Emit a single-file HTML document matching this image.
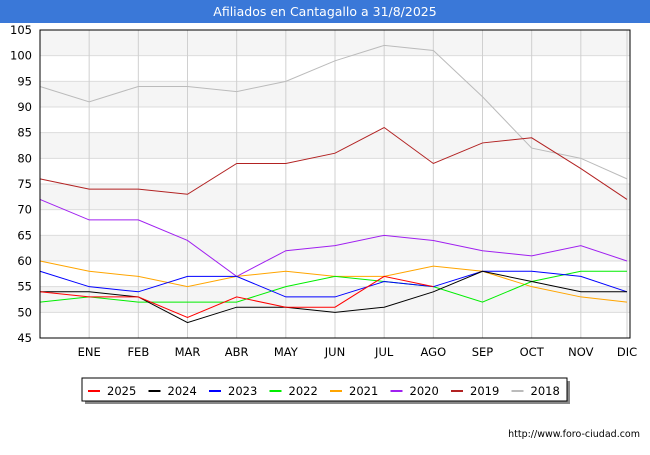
<!DOCTYPE html>
<html><head><meta charset="utf-8"><style>
body{margin:0;background:#fff;font-family:"Liberation Sans",sans-serif}
</style></head><body>
<svg width="650" height="450" xmlns="http://www.w3.org/2000/svg" font-family="DejaVu Sans, sans-serif">
<rect x="0" y="0" width="650" height="450" fill="#fff"/>
<rect x="0" y="0" width="650" height="23" fill="#3a78d8"/>
<text x="325" y="16" text-anchor="middle" fill="#fff" font-size="12.5">Afiliados en Cantagallo a 31/8/2025</text>
<g id="grid"></g><g id="lines"></g>
<rect x="40" y="30" width="590" height="308" fill="none" stroke="#000" stroke-width="1"/>
<g id="legend"></g>
<text x="640" y="437" text-anchor="end" font-size="9.5" fill="#000">http://www.foro-ciudad.com</text>
</svg>
<script>
const categories=["","ENE","FEB","MAR","ABR","MAY","JUN","JUL","AGO","SEP","OCT","NOV","DIC"];
const yTicks=[45,50,55,60,65,70,75,80,85,90,95,100,105];
const seriesNames=["2025","2024","2023","2022","2021","2020","2019","2018"];
const seriesColors=["#ff0000","#000000","#0000ff","#00ee00","#ffa500","#a020f0","#b22222","#bbbbbb"];
const s2025=[54,53,53,49,53,51,51,57,55];
const s2024=[54,54,53,48,51,51,50,51,54,58,56,54,54];
const s2023=[58,55,54,57,57,53,53,56,55,58,58,57,54];
const s2022=[52,53,52,52,52,55,57,56,55,52,56,58,58];
const s2021=[60,58,57,55,57,58,57,57,59,58,55,53,52];
const s2020=[72,68,68,64,57,62,63,65,64,62,61,63,60];
const s2019=[76,74,74,73,79,79,81,86,79,83,84,78,72];
const s2018=[94,91,94,94,93,95,99,102,101,92,82,80,76];
const seriesData=[s2025,s2024,s2023,s2022,s2021,s2020,s2019,s2018];
const NS="http://www.w3.org/2000/svg";
const x0=40,x1=630,y0=338,y1=30;
const xs=i=>x0+i*(x1-x0)/(categories.length-1)-(i==categories.length-1?3:0);
const ys=v=>y0-(v-45)*(y0-y1)/60;
function mk(t,a,p){const e=document.createElementNS(NS,t);for(const k in a)e.setAttribute(k,a[k]);p.appendChild(e);return e;}
const g=document.getElementById('grid');
for(let i=0;i<yTicks.length-1;i++){if(i%2==1){const r=mk('rect',{x:x0,y:ys(yTicks[i+1]),width:x1-x0,height:ys(yTicks[i])-ys(yTicks[i+1]),fill:'#f5f5f5'},g);

}}
yTicks.forEach(v=>{const l=mk('line',{x1:x0,x2:x1,y1:ys(v),y2:ys(v),stroke:'#dcdcdc'},g);


const t=mk('text',{x:x0-8,y:ys(v)+4,'text-anchor':'end','font-size':'11.5',fill:'#000'},g);t.textContent=v;

});
categories.forEach((c,i)=>{const l=mk('line',{x1:xs(i),x2:xs(i),y1:y1,y2:y0,stroke:'#d0d0d0'},g);


const t=mk('text',{x:xs(i),y:356,'text-anchor':'middle','font-size':'11.5',fill:'#000'},g);t.textContent=c;

});
const L=document.getElementById('lines');
for(let s=seriesData.length-1;s>=0;s--){const p=seriesData[s].map((v,i)=>xs(i)+','+ys(v)).join(' ');
const pl=mk('polyline',{points:p,fill:'none',stroke:seriesColors[s],'stroke-width':'1'},L);

}
const lg=document.getElementById('legend');
const sh=mk('rect',{x:85,y:381,width:485,height:23,fill:'#888'},lg);
const box=mk('rect',{x:82,y:378,width:485,height:23,fill:'#fff',stroke:'#000'},lg);


seriesNames.forEach((n,i)=>{const x=88+i*60.5;
const l=mk('line',{x1:x,x2:x+12,y1:391,y2:391,stroke:seriesColors[i],'stroke-width':'2'},lg);


const t=mk('text',{x:x+19,y:395,'font-size':'11.5',fill:'#000'},lg);t.textContent=n;

});
</script>
</body></html>
